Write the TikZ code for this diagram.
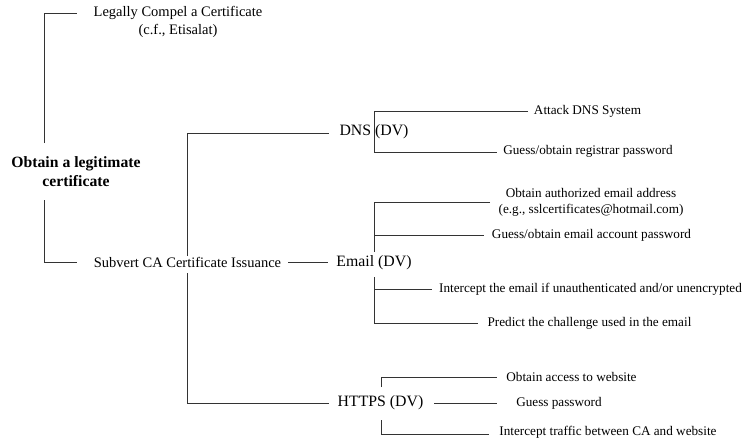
\documentclass[tikz,border=0pt]{standalone}
\usepackage{fontspec}
\setmainfont{Liberation Serif}
\begin{document}
\begin{tikzpicture}[x=1pt,y=-1pt,
  lbl/.style={inner sep=0pt,font=\fontsize{13.2}{16}\selectfont,align=center},
  mid/.style={inner sep=0pt,font=\fontsize{14.5}{18}\selectfont,align=center},
  big/.style={inner sep=0pt,font=\fontsize{15.8}{19}\selectfont,align=center},
  rootlbl/.style={inner sep=0pt,font=\fontsize{15.7}{19}\selectfont\bfseries,align=center},
  conn/.style={draw=black!80,line width=1pt}]
\useasboundingbox (0,0) rectangle (751,445);
\node[rootlbl] (root) at (76,172) {Obtain a legitimate\\certificate};
\node[mid] (legal) at (178,22) {Legally Compel a Certificate\\(c.f., Etisalat)};
\node[mid] (subvert) at (187.5,262) {Subvert CA Certificate Issuance};
\node[big] (dns) at (374,132) {DNS (DV)};
\node[big] (email) at (374,263) {Email (DV)};
\node[big] (https) at (380.5,403) {HTTPS (DV)};
\node[lbl] (attack) at (587.5,111) {Attack DNS System};
\node[lbl] (registrar) at (588,151) {Guess/obtain registrar password};
\node[lbl] (authaddr) at (591,202) {Obtain authorized email address\\(e.g., sslcertificates@hotmail.com)};
\node[lbl] (emailpw) at (591.5,235) {Guess/obtain email account password};
\node[lbl] (intercept) at (590.5,289) {Intercept the email if unauthenticated and/or unencrypted};
\node[lbl] (predict) at (589.5,323) {Predict the challenge used in the email};
\node[lbl] (access) at (571.5,377) {Obtain access to website};
\node[lbl] (guesspw) at (559,403) {Guess password};
\node[lbl] (traffic) at (608,432) {Intercept traffic between CA and website};
% coordinates
\coordinate (r1) at (44,143);
\coordinate (r2) at (44,200);
\coordinate (s1) at (187,256);
\coordinate (s2) at (187,273);
\draw[conn] (r1) -- (44,13) -- (77,13);
\draw[conn] (r2) -- (44,262) -- (77,262);
\draw[conn] (288,262) -- (328,262);
\draw[conn] (s1) -- (187,133) -- (329,133);
\draw[conn] (s2) -- (187,403) -- (329,403);
\draw[conn] (528,111) -- (374,111) -- (374,152) -- (497,152);
\draw[conn] (490,202) -- (374,202) -- (374,252);
\draw[conn] (374,235) -- (484,235);
\draw[conn] (374,277) -- (374,323) -- (478,323);
\draw[conn] (374,289) -- (432,289);
\draw[conn] (381,387) -- (381,377) -- (497,377);
\draw[conn] (434,403) -- (497,403);
\draw[conn] (381,420) -- (381,434) -- (489,434);
\end{tikzpicture}
\end{document}
